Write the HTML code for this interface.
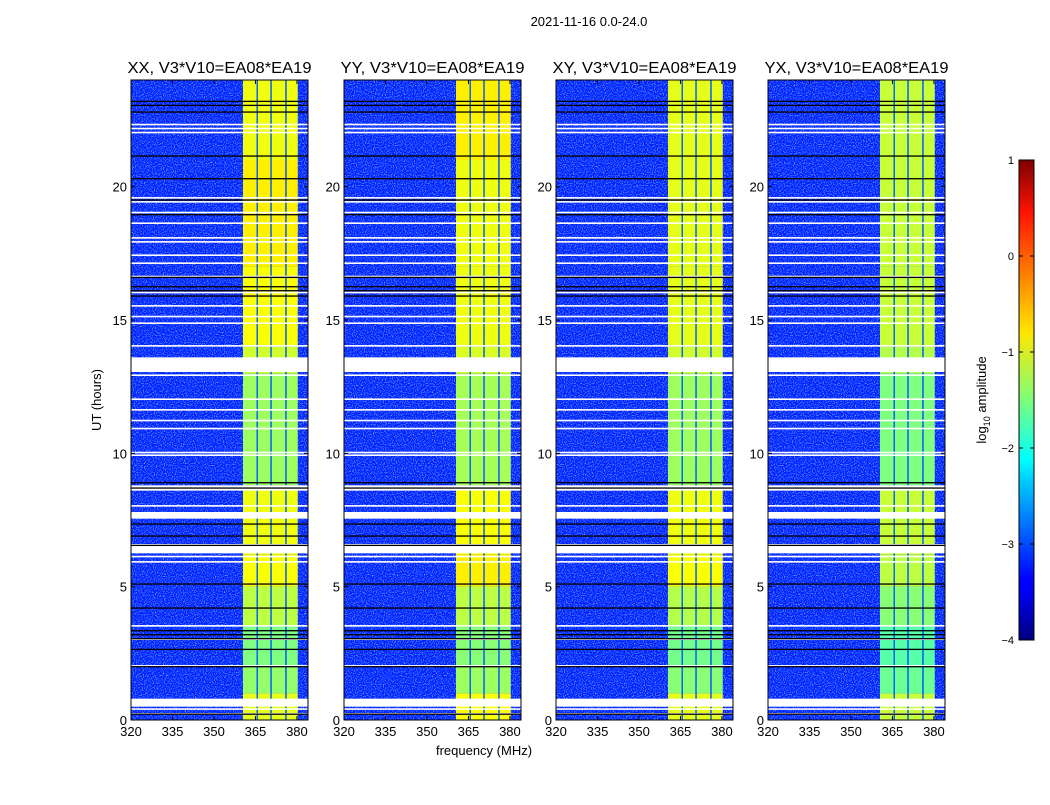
<!DOCTYPE html>
<html><head><meta charset="utf-8"><style>
body{margin:0;background:#fff;}
svg text{font-family:"Liberation Sans",sans-serif;}
</style></head><body>
<svg id="fig" width="1050" height="800" viewBox="0 0 1050 800" xmlns="http://www.w3.org/2000/svg">
<defs>
<filter id="noise" x="0" y="0" width="100%" height="100%">
<feTurbulence type="fractalNoise" baseFrequency="0.9" numOctaves="1" seed="3"/>
<feColorMatrix type="matrix" values="0 0 0 0 0.2  0 0 0 0 0.7  0 0 0 0 1  0 0 0 2.6 -1.2"/>
</filter>
<linearGradient id="jet" x1="0" y1="1" x2="0" y2="0">
<stop offset="0" stop-color="#00007f"/><stop offset="0.11" stop-color="#0000ff"/>
<stop offset="0.125" stop-color="#0000ff"/><stop offset="0.34" stop-color="#00d4ff"/>
<stop offset="0.375" stop-color="#00ffff"/><stop offset="0.5" stop-color="#7dff7a"/>
<stop offset="0.64" stop-color="#ffe600"/><stop offset="0.66" stop-color="#ffd600"/>
<stop offset="0.89" stop-color="#ff1300"/><stop offset="1" stop-color="#7f0000"/>
</linearGradient>
</defs>
<text x="589" y="26" font-size="13" text-anchor="middle">2021-11-16 0.0-24.0</text>
<text x="484" y="755" font-size="13" text-anchor="middle">frequency (MHz)</text>
<text transform="translate(101,400) rotate(-90)" font-size="13" text-anchor="middle">UT (hours)</text>
<g id="panels"></g>
<g id="cbar"></g>
</svg>
<script>
const panelTitles = ["XX, V3*V10=EA08*EA19","YY, V3*V10=EA08*EA19","XY, V3*V10=EA08*EA19","YX, V3*V10=EA08*EA19"];
const freqTicks = [320,335,350,365,380];
const hourTicks = [0,5,10,15,20];
const cbarTicks = [1,0,-1,-2,-3,-4];
const bgLevel = -3.25;
const bandEdges = [360.5,365.4,365.9,370.4,370.9,375.8,376.3,380.3];
const gapLevel = -2.9;
const blockEdges = [0,1,2,3.5,5,6.2,8.8,13,14,17,21,24];
const bandXX = [-1.0,-1.4,-1.5,-1.2,-0.9,-0.95,-1.35,-1.1,-0.9,-0.8,-0.95];
const bandYY = [-0.9,-1.35,-1.45,-1.2,-0.8,-0.9,-1.3,-1.05,-0.95,-0.95,-0.8];
const bandXY = [-1.0,-1.45,-1.55,-1.25,-0.9,-0.95,-1.35,-1.1,-1.0,-1.0,-1.0];
const bandYX = [-1.15,-1.6,-1.7,-1.45,-1.2,-1.15,-1.5,-1.25,-1.15,-1.15,-1.15];
const bandSeries = [bandXX,bandYY,bandXY,bandYX];
const whiteFlags = [[0.5,0.8],[6.25,6.6],[7.55,7.8],[8.6,8.8],[13.05,13.6],[0.2,0.26],[0.38,0.44],[2.0,2.06],[3.0,3.06],[3.5,3.56],[5.9,5.96],[6.1,6.16],[8.0,8.06],[9.9,9.96],[10.0,10.06],[10.9,10.96],[11.2,11.26],[11.6,11.66],[12.0,12.06],[12.9,12.96],[14.0,14.06],[14.85,14.91],[15.1,15.16],[15.5,15.56],[16.0,16.06],[16.6,16.66],[17.1,17.16],[17.4,17.46],[17.9,17.96],[18.05,18.11],[18.6,18.66],[19.0,19.06],[19.4,19.46],[19.55,19.61],[22.0,22.06],[22.15,22.21],[22.3,22.36]];
const blackLines = [0.22,2.0,2.65,3.05,3.2,3.35,4.2,5.1,6.55,6.9,7.35,8.7,8.9,15.9,16.1,16.25,16.6,18.95,19.5,20.3,21.15,22.8,23.05,23.2];

function jet(v){
  let t=(v+4)/5; t=Math.max(0,Math.min(1,t));
  const r=Math.max(0,Math.min(1,1.5-Math.abs(4*t-3)));
  const g=Math.max(0,Math.min(1,1.5-Math.abs(4*t-2)));
  const b=Math.max(0,Math.min(1,1.5-Math.abs(4*t-1)));
  return `rgb(${Math.round(r*255)},${Math.round(g*255)},${Math.round(b*255)})`;
}
const NS="http://www.w3.org/2000/svg";
function mk(tag,attrs,parent){const e=document.createElementNS(NS,tag);for(const k in attrs)e.setAttribute(k,attrs[k]);parent.appendChild(e);return e;}
const panelX=[131,344,556,768], PW=177, PT=80, PB=720;
const fMin=320,fMax=384;
const panelsG=document.getElementById('panels');
panelX.forEach((px,pi)=>{
  const xs=f=>px+(f-fMin)/(fMax-fMin)*PW;
  const ys=h=>PB-h/24*(PB-PT);
  const g=mk('g',{},panelsG);
  
  
  const bg=mk('rect',{x:px,y:PT,width:PW,height:PB-PT,fill:jet(bgLevel)},g);
  
  
  mk('rect',{x:px,y:PT,width:PW,height:PB-PT,filter:'url(#noise)'},g);
  const vals=bandSeries[pi];
  for(let b=0;b<vals.length;b++){
    for(let s=0;s<bandEdges.length-1;s++){
      const lvl = s%2===1?gapLevel:vals[b];
      const r=mk('rect',{x:xs(bandEdges[s]),y:ys(blockEdges[b+1]),width:xs(bandEdges[s+1])-xs(bandEdges[s]),height:ys(blockEdges[b])-ys(blockEdges[b+1]),fill:jet(lvl)},g);
      
      
    }
  }
  whiteFlags.forEach(w=>{
    const r=mk('rect',{x:px,y:ys(w[1]),width:PW,height:Math.max(1.2,ys(w[0])-ys(w[1])),fill:'#fff'},g);
    
    
  });
  blackLines.forEach(h=>{
    const r=mk('rect',{x:px,y:ys(h)-0.6,width:PW,height:1.3,fill:'#000'},g);
    
    
  });
  mk('rect',{x:px,y:PT,width:PW,height:PB-PT,fill:'none',stroke:'#000','stroke-width':1},g);
  const t=mk('text',{x:px+PW/2,y:73,'font-size':15.5,'text-anchor':'middle',textLength:184,lengthAdjust:'spacingAndGlyphs'},g);
  t.textContent=panelTitles[pi];
  
  
  freqTicks.forEach(f=>{
    const x=xs(f);
    mk('line',{x1:x,x2:x,y1:PB,y2:PB-4,stroke:'#000'},g);
    mk('line',{x1:x,x2:x,y1:PT,y2:PT+4,stroke:'#000'},g);
    const tt=mk('text',{x:x,y:PB+16,'font-size':13,'text-anchor':'middle'},g);
    tt.textContent=f;
    
    
  });
  hourTicks.forEach(h=>{
    const y=ys(h);
    mk('line',{x1:px,x2:px+4,y1:y,y2:y,stroke:'#000'},g);
    mk('line',{x1:px+PW,x2:px+PW-4,y1:y,y2:y,stroke:'#000'},g);
    const tt=mk('text',{x:px-4,y:y+5,'font-size':13,'text-anchor':'end'},g);
    tt.textContent=h;
    
    
  });
});
const cb=document.getElementById('cbar');
const cbX=1019,cbW=15,cbT=160,cbB=640;
mk('rect',{x:cbX,y:cbT,width:cbW,height:cbB-cbT,fill:'url(#jet)',stroke:'#000'},cb);
cbarTicks.forEach(v=>{
  const y=cbB-(v+4)/5*(cbB-cbT);
  mk('line',{x1:cbX,x2:cbX+4,y1:y,y2:y,stroke:'#000'},cb);
  mk('line',{x1:cbX+cbW,x2:cbX+cbW-4,y1:y,y2:y,stroke:'#000'},cb);
  const tt=mk('text',{x:cbX-5,y:y+4,'font-size':11,'text-anchor':'end'},cb);
  tt.textContent=v<0?'\u2212'+(-v):v;
  
  
});
const lab=mk('text',{transform:'translate(986,400) rotate(-90)','font-size':13,'text-anchor':'middle'},cb);
lab.innerHTML='log<tspan font-size="9" dy="4">10</tspan><tspan dy="-4"> amplitude</tspan>';


</script>
</body></html>
